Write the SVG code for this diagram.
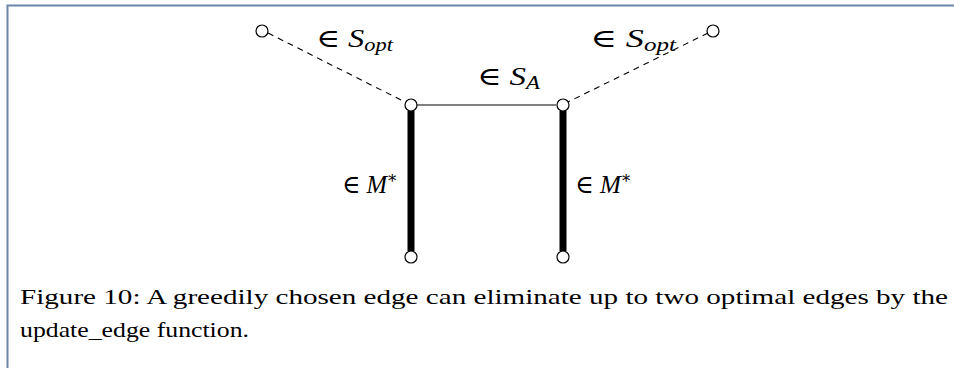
<svg xmlns="http://www.w3.org/2000/svg" width="954" height="368" viewBox="0 0 954 368">
<style>
.n{fill:#fff;stroke:#000;stroke-width:1.2}
.thin{stroke:#000;stroke-width:1.2;fill:none}
.dash{stroke:#000;stroke-width:1.1;stroke-dasharray:6 5;fill:none}
.thick{stroke:#000;stroke-width:7;fill:none}
.m{font-family:"Liberation Serif","DejaVu Serif",serif;font-size:26px;fill:#000}
.mi{font-style:italic}
.sub{font-size:18px;font-style:italic}
.cap{font-family:"Liberation Serif","DejaVu Serif",serif;font-size:22px;fill:#000}
</style>
<rect width="954" height="368" fill="#fff"/>
<path d="M7.5 368 V5.5 H954" fill="none" stroke="#6a86a8" stroke-width="2"/>
<g id="connectors">
<line class="dash" x1="268" y1="33" x2="405" y2="102"/>
<line class="dash" x1="708" y1="33" x2="568" y2="102"/>
<line class="thin" x1="417" y1="105" x2="556" y2="105"/>
<line class="thick" x1="411" y1="111" x2="411" y2="251"/>
<line class="thick" x1="563" y1="111" x2="563" y2="251"/>
</g>
<g id="n1"><circle class="n" cx="262" cy="31" r="6"/></g>
<g id="n2"><circle class="n" cx="713" cy="31" r="6"/></g>
<g id="n3"><circle class="n" cx="411" cy="105" r="6"/></g>
<g id="n4"><circle class="n" cx="563" cy="105" r="6"/></g>
<g id="n5"><circle class="n" cx="411" cy="257" r="6"/></g>
<g id="n6"><circle class="n" cx="563" cy="257" r="6"/></g>
<g id="labels">
<text class="m" x="316" y="47" textLength="77" lengthAdjust="spacingAndGlyphs">∈ <tspan class="mi">S</tspan><tspan class="sub" dy="4">opt</tspan></text>
<text class="m" x="590" y="47" textLength="86" lengthAdjust="spacingAndGlyphs">∈ <tspan class="mi">S</tspan><tspan class="sub" dy="4">opt</tspan></text>
<text class="m" x="477" y="85" textLength="63" lengthAdjust="spacingAndGlyphs">∈ <tspan class="mi">S</tspan><tspan class="sub" dy="4">A</tspan></text>
<text class="m" x="342" y="193" textLength="56" lengthAdjust="spacingAndGlyphs">∈ <tspan class="mi">M</tspan><tspan font-size="17" dy="-10">∗</tspan></text>
<text class="m" x="575" y="193" textLength="57" lengthAdjust="spacingAndGlyphs">∈ <tspan class="mi">M</tspan><tspan font-size="17" dy="-10">∗</tspan></text>
</g>
<g id="caption">
<text class="cap" x="20" y="304" textLength="928" lengthAdjust="spacingAndGlyphs">Figure 10: A greedily chosen edge can eliminate up to two optimal edges by the</text>
<text class="cap" x="20" y="337" textLength="229" lengthAdjust="spacingAndGlyphs">update_edge function.</text>
</g>
</svg>
